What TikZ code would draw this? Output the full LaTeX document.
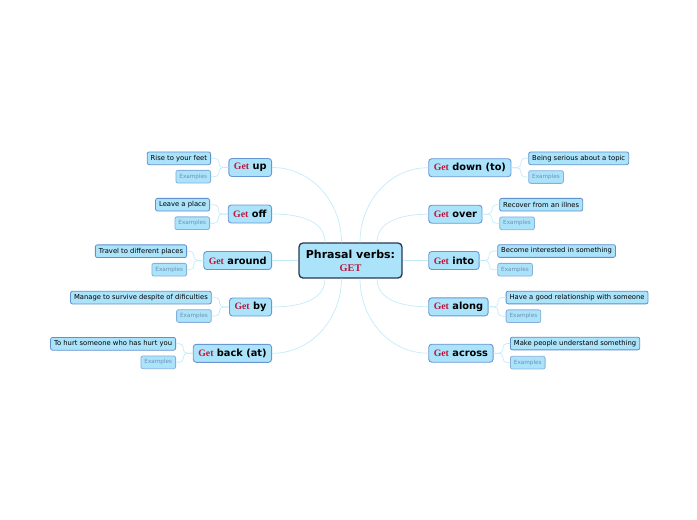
\documentclass[tikz,border=0pt]{standalone}
\usepackage{fontspec}
\setmainfont{DejaVu Sans}
\newfontfamily\timesfont{Liberation Serif}

\definecolor{nodefill}{RGB}{171,227,251}
\definecolor{hubline}{RGB}{40,55,85}
\definecolor{verbline}{RGB}{105,150,210}
\definecolor{leafline}{RGB}{95,145,205}
\definecolor{exline}{RGB}{135,175,220}
\definecolor{extext}{RGB}{110,145,175}
\definecolor{linkblue}{RGB}{195,235,250}
\definecolor{getred}{RGB}{190,22,58}

\newcommand{\getword}{{\timesfont\bfseries\color{getred}Get}}

\begin{document}
\begin{tikzpicture}[x=1pt,y=-1pt]
    \tikzstyle{hub}=[draw=hubline,line width=1.3pt,fill=nodefill,rounded corners=4pt,minimum width=103pt,minimum height=35pt,align=center,inner sep=0pt]
    \tikzstyle{verb}=[draw=verbline,line width=0.9pt,fill=nodefill,rounded corners=3pt,minimum height=18pt,inner xsep=5pt,inner ysep=0pt,font=\fontsize{9.8}{11}\selectfont\bfseries]
    \tikzstyle{meaning}=[draw=leafline,line width=0.8pt,fill=nodefill,rounded corners=2pt,minimum height=12.7pt,inner xsep=3.5pt,inner ysep=0pt,font=\fontsize{6.8}{8}\selectfont]
    \tikzstyle{examples}=[meaning,draw=exline,text=extext,font=\fontsize{5.7}{7}\selectfont]
    \tikzstyle{link}=[draw=linkblue,line width=0.7pt]
    \tikzstyle{twig}=[draw=linkblue,line width=0.7pt,rounded corners=4pt]

    \useasboundingbox (0,0) rectangle (697,520);

    \node[hub] at (350.5,260.5) (hub) {\fontsize{11}{13}\selectfont\bfseries Phrasal verbs:\\[1pt]{\fontsize{10.3}{12}\selectfont\timesfont\bfseries\color{getred}GET}};

    % left side
    \node[verb,anchor=east] at (272,167.5) (up) {\getword{} up};
    \node[verb,anchor=east] at (272,214) (off) {\getword{} off};
    \node[verb,anchor=east] at (272,260.5) (around) {\getword{} around};
    \node[verb,anchor=east] at (272,307) (by) {\getword{} by};
    \node[verb,anchor=east] at (272,353.3) (back) {\getword{} back (at)};

    \node[meaning,anchor=east] at (211,158.3) (upmeaning) {Rise to your feet};
    \node[examples,anchor=east] at (211,176.7) (upex) {Examples};
    \node[meaning,anchor=east] at (210,204.7) (offmeaning) {Leave a place};
    \node[examples,anchor=east] at (210,223.2) (offex) {Examples};
    \node[meaning,anchor=east] at (187,251.2) (aroundmeaning) {Travel to different places};
    \node[examples,anchor=east] at (187,269.7) (aroundex) {Examples};
    \node[meaning,anchor=east] at (211.7,297.6) (bymeaning) {Manage to survive despite of dificulties};
    \node[examples,anchor=east] at (211.7,316) (byex) {Examples};
    \node[meaning,anchor=east] at (176,343.8) (backmeaning) {To hurt someone who has hurt you};
    \node[examples,anchor=east] at (176,362.3) (backex) {Examples};

    % right side
    \node[verb,anchor=west] at (428.3,167.7) (down) {\getword{} down (to)};
    \node[verb,anchor=west] at (428.3,214.2) (over) {\getword{} over};
    \node[verb,anchor=west] at (428.3,260.5) (into) {\getword{} into};
    \node[verb,anchor=west] at (428.3,306.8) (along) {\getword{} along};
    \node[verb,anchor=west] at (428.3,353.2) (across) {\getword{} across};

    \node[meaning,anchor=west] at (528.3,158.3) (downmeaning) {Being serious about a topic};
    \node[examples,anchor=west] at (528.3,177) (downex) {Examples};
    \node[meaning,anchor=west] at (499.3,204.7) (overmeaning) {Recover from an illnes};
    \node[examples,anchor=west] at (499.3,223.3) (overex) {Examples};
    \node[meaning,anchor=west] at (497.3,251) (intomeaning) {Become interested in something};
    \node[examples,anchor=west] at (497.3,269.7) (intoex) {Examples};
    \node[meaning,anchor=west] at (505.7,297.5) (alongmeaning) {Have a good relationship with someone};
    \node[examples,anchor=west] at (505.7,316.2) (alongex) {Examples};
    \node[meaning,anchor=west] at (510,343.5) (acrossmeaning) {Make people understand something};
    \node[examples,anchor=west] at (510,362.6) (acrossex) {Examples};

    % main branches
    \draw[link] (up.east) to[out=0,in=90] ([xshift=-9pt]hub.north);
    \draw[link] (off.east) to[out=0,in=90] ([xshift=-25.5pt]hub.north);
    \draw[link] (around.east) -- (hub.west);
    \draw[link] (by.east) to[out=0,in=-90] ([xshift=-25.5pt]hub.south);
    \draw[link] (back.east) to[out=0,in=-90] ([xshift=-9pt]hub.south);
    \draw[link] (down.west) to[out=180,in=90] ([xshift=9.5pt]hub.north);
    \draw[link] (over.west) to[out=180,in=90] ([xshift=26.5pt]hub.north);
    \draw[link] (into.west) -- (hub.east);
    \draw[link] (along.west) to[out=180,in=-90] ([xshift=26.5pt]hub.south);
    \draw[link] (across.west) to[out=180,in=-90] ([xshift=9.5pt]hub.south);

    % sub branches
    \draw[twig] (up.west) -- ++(-9.5pt,0) |- (upmeaning.east);
    \draw[twig] (up.west) -- ++(-9.5pt,0) |- (upex.east);
    \draw[twig] (off.west) -- ++(-9.5pt,0) |- (offmeaning.east);
    \draw[twig] (off.west) -- ++(-9.5pt,0) |- (offex.east);
    \draw[twig] (around.west) -- ++(-9.5pt,0) |- (aroundmeaning.east);
    \draw[twig] (around.west) -- ++(-9.5pt,0) |- (aroundex.east);
    \draw[twig] (by.west) -- ++(-9.5pt,0) |- (bymeaning.east);
    \draw[twig] (by.west) -- ++(-9.5pt,0) |- (byex.east);
    \draw[twig] (back.west) -- ++(-9.5pt,0) |- (backmeaning.east);
    \draw[twig] (back.west) -- ++(-9.5pt,0) |- (backex.east);
    \draw[twig] (down.east) -- ++(9.5pt,0) |- (downmeaning.west);
    \draw[twig] (down.east) -- ++(9.5pt,0) |- (downex.west);
    \draw[twig] (over.east) -- ++(9.5pt,0) |- (overmeaning.west);
    \draw[twig] (over.east) -- ++(9.5pt,0) |- (overex.west);
    \draw[twig] (into.east) -- ++(9.5pt,0) |- (intomeaning.west);
    \draw[twig] (into.east) -- ++(9.5pt,0) |- (intoex.west);
    \draw[twig] (along.east) -- ++(9.5pt,0) |- (alongmeaning.west);
    \draw[twig] (along.east) -- ++(9.5pt,0) |- (alongex.west);
    \draw[twig] (across.east) -- ++(9.5pt,0) |- (acrossmeaning.west);
    \draw[twig] (across.east) -- ++(9.5pt,0) |- (acrossex.west);
\end{tikzpicture}
\end{document}
